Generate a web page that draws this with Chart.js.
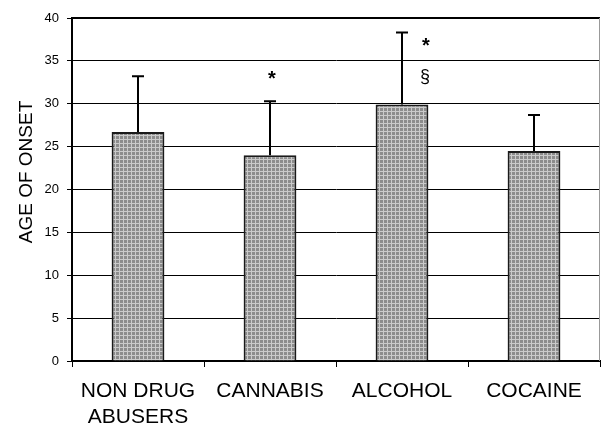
<!DOCTYPE html>
<html>
<head>
<meta charset="utf-8">
<script src="https://cdn.jsdelivr.net/npm/chart.js@4/dist/chart.umd.min.js"></script>
<style>
  html, body { margin: 0; padding: 0; background: #fff; }
  #wrap { width: 601px; height: 425px; }
</style>
</head>
<body>
<div id="wrap"><canvas id="myChart" width="601" height="425"></canvas></div>
<script>
// data
var categories = [["NON DRUG", "ABUSERS"], "CANNABIS", "ALCOHOL", "COCAINE"];
var meanAge = [26.7, 24.0, 29.9, 24.5];
var sdAge = [6.5, 6.3, 8.4, 4.2];
var marks = [[], ["*"], ["*", "§"], []];
var yTicks = [0, 5, 10, 15, 20, 25, 30, 35, 40];

// grey dotted fill like the original bars
function makePattern() {
  var c = document.createElement("canvas");
  c.width = 4; c.height = 4;
  var g = c.getContext("2d");
  g.fillStyle = "#cacaca";
  g.fillRect(0, 0, 4, 4);
  g.fillStyle = "#8c8c8c";
  g.fillRect(0, 0, 3, 3);
  return g.createPattern(c, "repeat");
}

var ctx = document.getElementById("myChart").getContext("2d");

var extras = {
  id: "extras",
  afterDatasetsDraw: function (chart) {
    var c = chart.ctx, x = chart.scales.x, y = chart.scales.y, a = chart.chartArea;
    c.save();
    // frame top + right
    c.strokeStyle = "#000";
    c.lineWidth = 2;
    c.beginPath();
    c.moveTo(a.left, a.top);
    c.lineTo(a.right, a.top);
    c.stroke();
    c.strokeStyle = "#999";
    c.lineWidth = 1;
    c.beginPath();
    c.moveTo(a.right - 0.5, a.top);
    c.lineTo(a.right - 0.5, a.bottom);
    c.stroke();

    // error bars (upper only)
    c.strokeStyle = "#000";
    c.lineWidth = 2;
    meanAge.forEach(function (m, i) {
      var px = x.getPixelForValue(i);
      var top = y.getPixelForValue(m + sdAge[i]);
      var base = y.getPixelForValue(m);
      c.beginPath();
      c.moveTo(px, base);
      c.lineTo(px, top);
      c.moveTo(px - 6, top);
      c.lineTo(px + 6, top);
      c.stroke();
    });

    // significance marks
    c.fillStyle = "#000";
    c.textAlign = "center";
    c.textBaseline = "middle";
    marks.forEach(function (list, i) {
      if (!list.length) return;
      var px = x.getPixelForValue(i);
      var top = y.getPixelForValue(meanAge[i] + sdAge[i]);
      if (list.length == 1) {
        c.font = "bold 20px 'Liberation Sans', Arial, sans-serif";
        c.fillText(list[0], px + 2, top - 22);
      } else {
        c.font = "bold 20px 'Liberation Sans', Arial, sans-serif";
        c.fillText(list[0], px + 24, top + 14);
        c.font = "18px 'Liberation Sans', Arial, sans-serif";
        c.fillText(list[1], px + 23, top + 44);
      }
    });

    // y axis title
    c.font = "19px 'Liberation Sans', Arial, sans-serif";
    c.translate(27, 172);
    c.rotate(-Math.PI / 2);
    c.fillText("AGE OF ONSET", 0, 0);
    c.restore();
  }
};

var chart = new Chart(ctx, {
  type: "bar",
  data: {
    labels: categories,
    datasets: [{
      data: meanAge,
      backgroundColor: makePattern(),
      borderColor: "#1a1a1a",
      borderWidth: 2,
      borderSkipped: "bottom",
      categoryPercentage: 1,
      barPercentage: 0.4
    }]
  },
  options: {
    responsive: false,
    animation: false,
    layout: { padding: { top: 18, right: 1, left: 0, bottom: 0 } },
    plugins: { legend: { display: false }, tooltip: { enabled: false } },
    scales: {
      x: {
        offset: true,
        grid: { display: true, drawOnChartArea: false, drawTicks: true, tickLength: 6, color: "#000", lineWidth: 1, offset: true },
        border: { color: "#000", width: 2 },
        ticks: {
          color: "#000",
          padding: 12,
          maxRotation: 0,
          font: { family: "'Liberation Sans', Arial, sans-serif", size: 21, lineHeight: 1.2 }
        },
        afterFit: function (s) { s.height = 64; }
      },
      y: {
        min: 0,
        max: 40,
        afterBuildTicks: function (s) { s.ticks = yTicks.map(function (v) { return { value: v }; }); },
        grid: { color: "#000", lineWidth: 1, tickLength: 5 },
        border: { color: "#000", width: 2 },
        ticks: {
          color: "#000",
          padding: 8,
          font: { family: "'Liberation Sans', Arial, sans-serif", size: 13 }
        },
        afterFit: function (s) { s.width = 72; }
      }
    }
  },
  plugins: [extras]
});
</script>
</body>
</html>
